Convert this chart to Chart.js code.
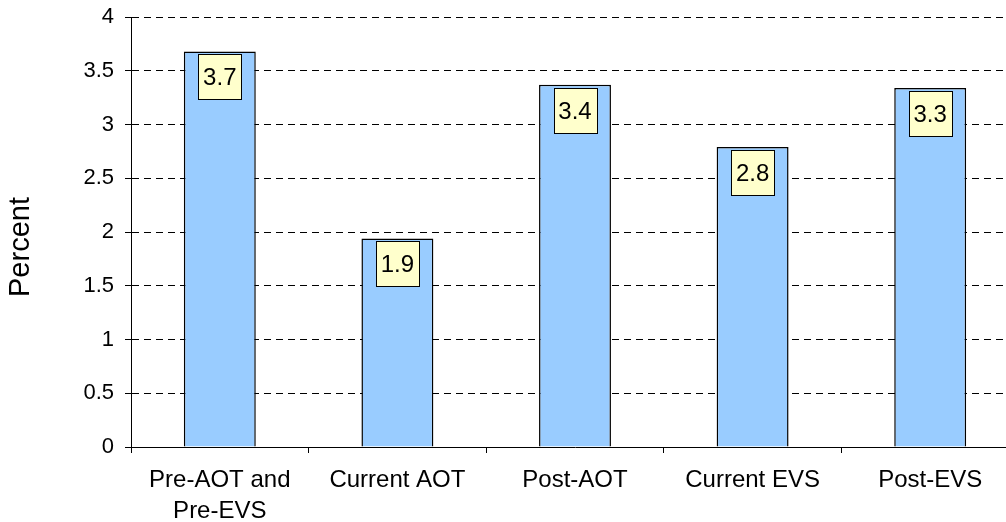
<!DOCTYPE html>
<html>
<head>
<meta charset="utf-8">
<script src="https://cdn.jsdelivr.net/npm/chart.js@4.4.1/dist/chart.umd.min.js"></script>
<style>
  html, body { margin: 0; padding: 0; background: #fff; overflow: hidden; }
  #wrap { width: 1020px; height: 522px; }
</style>
</head>
<body>
<div id="wrap"><canvas id="percentChart" width="1020" height="522"></canvas></div>
<script>
const categories = [['Pre-AOT and', 'Pre-EVS'], 'Current AOT', 'Post-AOT', 'Current EVS', 'Post-EVS'];
const percentValues = [3.68, 1.94, 3.37, 2.79, 3.34];
const yMin = 0;
const yMax = 4;
const yStep = 0.5;
const yTitle = 'Percent';

const FONT = '"Liberation Sans", Arial, sans-serif';

// yellow value boxes sitting just inside the top of each bar
const valueBoxes = {
  id: 'valueBoxes',
  afterDatasetsDraw(chart) {
    const ctx = chart.ctx;
    const meta = chart.getDatasetMeta(0);
    ctx.save();
    ctx.font = '24px ' + FONT;
    ctx.textAlign = 'center';
    ctx.textBaseline = 'middle';
    meta.data.forEach((bar, i) => {
      const text = percentValues[i].toFixed(1);
      const w = Math.round(ctx.measureText(text).width + 10);
      const h = 45;
      const left = Math.round(bar.x - w / 2) + 0.5;
      const top = Math.round(bar.y + 3) + 0.5;
      ctx.fillStyle = '#FFFFCC';
      ctx.fillRect(left, top, w, h);
      ctx.strokeStyle = '#000';
      ctx.lineWidth = 1;
      ctx.strokeRect(left, top, w, h);
      ctx.fillStyle = '#000';
      ctx.fillText(text, bar.x, top + h / 2 + 1);
    });
    ctx.restore();
  }
};

// axis title sits a bit below the middle of the plot, as in the original
const sideTitle = {
  id: 'sideTitle',
  afterDraw(chart) {
    const { ctx, chartArea } = chart;
    ctx.save();
    ctx.translate(21, (chartArea.top + chartArea.bottom) / 2 + 15);
    ctx.rotate(-Math.PI / 2);
    ctx.font = '29px ' + FONT;
    ctx.textAlign = 'center';
    ctx.textBaseline = 'middle';
    ctx.fillStyle = '#000';
    ctx.fillText(yTitle, 0, 0);
    ctx.restore();
  }
};

new Chart(document.getElementById('percentChart'), {
  type: 'bar',
  data: {
    labels: categories,
    datasets: [{
      data: percentValues,
      backgroundColor: '#99CCFF',
      borderColor: '#000',
      borderWidth: 1.5,
      categoryPercentage: 1,
      barPercentage: 0.405
    }]
  },
  options: {
    responsive: false,
    animation: false,
    layout: { padding: { top: 0, right: 1, bottom: 0, left: 0 } },
    plugins: {
      legend: { display: false },
      tooltip: { enabled: false }
    },
    scales: {
      x: {
        grid: {
          drawOnChartArea: false,
          drawTicks: true,
          tickLength: 6,
          color: '#000',
          tickColor: '#000',
          tickBorderDash: [],
          offset: true
        },
        border: { display: true, color: '#000', width: 1 },
        ticks: {
          color: '#000',
          font: { size: 24, family: FONT, lineHeight: 1.3 },
          padding: 12,
          maxRotation: 0,
          autoSkip: false
        },
        afterFit(scale) { scale.height = 75; }
      },
      y: {
        min: yMin,
        max: yMax,
        ticks: {
          stepSize: yStep,
          color: '#000',
          font: { size: 22, family: FONT },
          padding: 11,
          callback: (v) => String(v)
        },
        grid: {
          color: '#000',
          lineWidth: 1,
          tickLength: 6,
          tickColor: '#000',
          tickBorderDash: []
        },
        border: { display: true, color: '#000', width: 1, dash: [7, 5] },
        afterFit(scale) {
          scale.width = 131;
          scale.paddingTop = 17;
        }
      }
    }
  },
  plugins: [valueBoxes, sideTitle]
});
</script>
</body>
</html>
